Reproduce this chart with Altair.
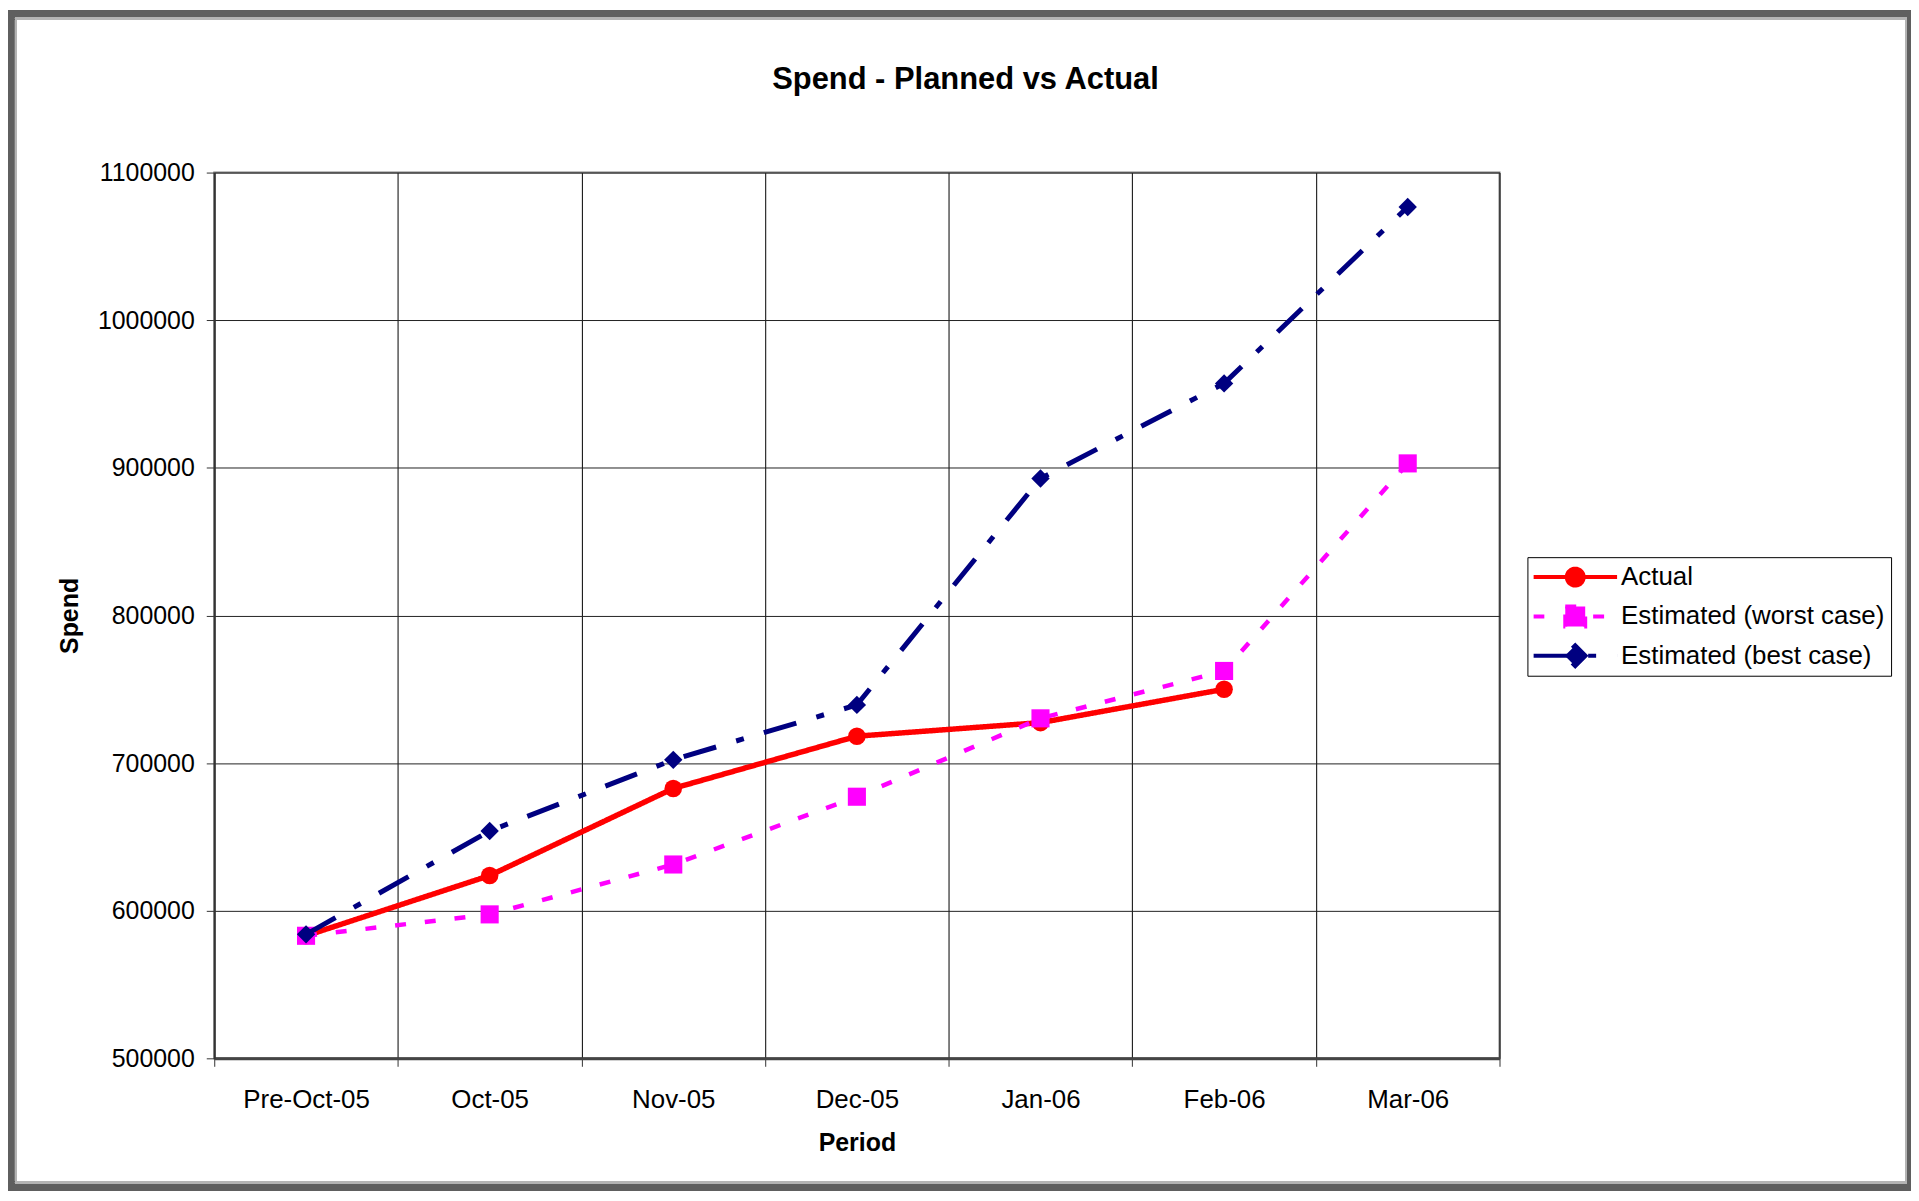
import altair as alt
import pandas as pd

# ---------------- data ----------------
periods = ["Pre-Oct-05", "Oct-05", "Nov-05", "Dec-05", "Jan-06", "Feb-06", "Mar-06"]
actual = [583000, 623800, 682800, 718200, 727400, 750000]
worst_case = [583000, 597500, 631300, 677200, 730300, 762400, 903000]
best_case = [584000, 654000, 702200, 739400, 892800, 957200, 1076700]
series_names = ["Actual", "Estimated (worst case)", "Estimated (best case)"]
series_values = [actual, worst_case, best_case]
y_ticks = [500000, 600000, 700000, 800000, 900000, 1000000, 1100000]

# ---------------- styles ----------------
colors = ["#FF0000", "#FF00FF", "#000080"]
dashes = [[1, 0], [11, 19], [34, 21, 8, 21]]
line_widths = [5.5, 4.5, 5]
shapes = ["circle", "square", "diamond"]
marker_sizes = [310, 330, 340]
legend_glyphs = [
    "M-3.82,0H3.82M-0.77,0A0.77,0.77 0 1,0 0.77,0A0.77,0.77 0 1,0 -0.77,0Z",
    "M-3.82,0H3.82M-0.91,-0.91H0.91V0.91H-0.91Z",
    "M-3.82,0H3.82M0,-0.95L0.95,0L0,0.95L-0.95,0Z",
]
FONT = "Liberation Sans"

rows = []
for name, vals in zip(series_names, series_values):
    for p, v in zip(periods, vals):
        rows.append({"period": p, "spend": v, "series": name})
df = pd.DataFrame(rows)

x_enc = alt.X(
    "period:N",
    sort=periods,
    bandPosition=0.5,
    scale=alt.Scale(type="band", domain=periods, paddingInner=0, paddingOuter=0),
    axis=alt.Axis(
        title="Period",
        tickBand="extent",
        grid=True,
        labelAngle=0,
        labelFont=FONT,
        labelFontSize=26,
        labelColor="black",
        labelPadding=20,
        tickSize=8,
        tickColor="#333333",
        domainColor="#444444",
        domainWidth=3,
        gridColor="#000000",
        gridWidth=1,
        titleFont=FONT,
        titleFontSize=25,
        titleFontWeight="bold",
        titleColor="black",
        titleX=645,
        titleY=93,
        titleBaseline="alphabetic",
    ),
)
y_enc = alt.Y(
    "spend:Q",
    scale=alt.Scale(domain=[500000, 1100000], nice=False, zero=False),
    axis=alt.Axis(
        title="Spend",
        values=y_ticks,
        format="d",
        labelFont=FONT,
        labelFontSize=25,
        labelColor="black",
        labelPadding=12,
        tickSize=8,
        tickColor="#333333",
        domainColor="#333333",
        domainWidth=2,
        gridColor="#222222",
        gridWidth=1,
        titleFont=FONT,
        titleFontSize=25,
        titleFontWeight="bold",
        titleColor="black",
        titleAngle=270,
        titleX=-145,
        titleY=444.5,
        titleAlign="center",
        titleBaseline="middle",
    ),
)

base = alt.Chart(df)

# decorative chart frame (dark outer band + light inner line)
frame_outer = base.mark_rect(fill="transparent", stroke="#5f5f5f", strokeWidth=7).encode(
    x=alt.value(-203.5), x2=alt.value(1701.5), y=alt.value(-159.5), y2=alt.value(1018.5)
)
frame_inner = base.mark_rect(fill="transparent", stroke="#b4b4b4", strokeWidth=2).encode(
    x=alt.value(-199), x2=alt.value(1698), y=alt.value(-155), y2=alt.value(1014)
)

layers = [frame_outer, frame_inner]

for i, name in enumerate(series_names):
    sub = base.transform_filter(alt.datum.series == name)
    line = sub.mark_line(
        color=colors[i], strokeWidth=line_widths[i], strokeDash=dashes[i]
    ).encode(x=x_enc, y=y_enc)
    pts = sub.mark_point(
        shape=shapes[i], filled=True, fill=colors[i], color=colors[i],
        size=marker_sizes[i], opacity=1, strokeWidth=0
    ).encode(x=x_enc, y=y_enc)
    layers += [line, pts]

legend = alt.Legend(
    title=None,
    orient="none",
    legendX=1318,
    legendY=386,
    symbolSize=484,
    symbolStrokeWidth=4,
    symbolOffset=29,
    clipHeight=28,
    labelFont=FONT,
    labelFontSize=26,
    labelColor="black",
    labelOffset=33,
    labelLimit=500,
    padding=6,
    rowPadding=11.5,
    strokeColor="black",
    fillColor="white",
)
legend_src = base.mark_point(size=0, strokeWidth=4, opacity=1).encode(
    x=x_enc,
    y=y_enc,
    fill=alt.Fill("series:N", scale=alt.Scale(domain=series_names, range=colors), legend=legend),
    stroke=alt.Stroke("series:N", scale=alt.Scale(domain=series_names, range=colors), legend=legend),
    shape=alt.Shape("series:N", scale=alt.Scale(domain=series_names, range=legend_glyphs), legend=legend),
    strokeDash=alt.StrokeDash("series:N", scale=alt.Scale(domain=series_names, range=dashes), legend=legend),
)
layers.append(legend_src)

chart = (
    alt.layer(*layers)
    .properties(
        width=1290,
        height=889,
        padding={"left": 207, "top": 163, "right": 413, "bottom": 133},
        autosize=alt.AutoSizeParams(type="none"),
        title=alt.TitleParams(
            "Spend - Planned vs Actual",
            font=FONT,
            fontSize=31,
            fontWeight="bold",
            color="black",
            anchor="middle",
            dx=109,
            dy=110,
            offset=0,
            baseline="alphabetic",
        ),
    )
    .configure(background="white")
    .configure_view(stroke="#808080", strokeWidth=2)
)

chart.save("out.html", embed_options={"renderer": "svg", "actions": False})
